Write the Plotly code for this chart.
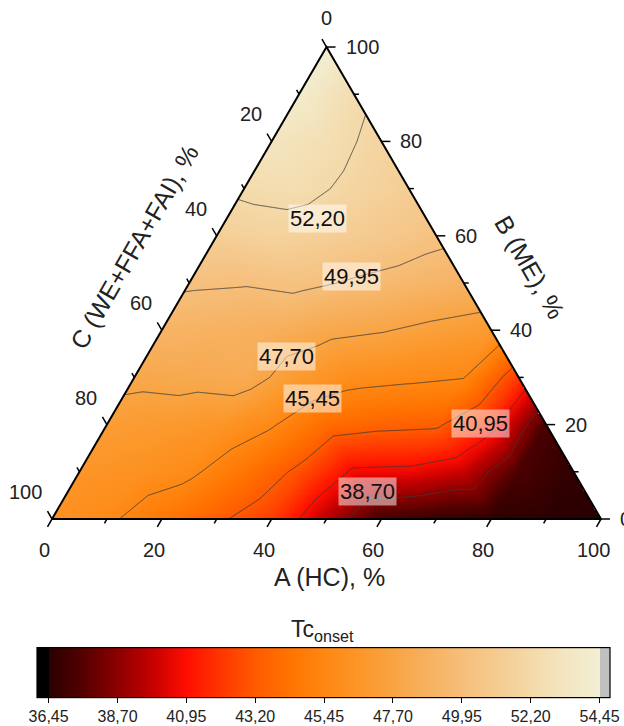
import numpy as np
import plotly.graph_objects as go

# ---------------- data ----------------
# Tc_onset at ternary nodes. Each row has B (ME) fixed; entries are A (HC) = 0, 10, ..., 100 - B
tc_b000 = [46.3, 45.7, 44.6, 43.45, 42.3, 39.6, 37.2, 36.8, 36.6, 36.5, 36.45]
tc_b010 = [46.6, 46.3, 45.75, 44.4, 42.9, 40.7, 40.6, 39.9, 37.3, 36.6]
tc_b020 = [47.1, 46.9, 46.6, 45.6, 44.0, 43.6, 43.45, 41.5, 37.2]
tc_b030 = [48.05, 48.2, 48.4, 46.9, 46.0, 45.75, 45.5, 42.2]
tc_b040 = [49.1, 48.9, 48.7, 48.1, 47.8, 47.3, 46.9]
tc_b050 = [50.15, 50.05, 50.3, 49.8, 49.4, 49.0]
tc_b060 = [51.35, 51.7, 51.4, 50.9, 50.3]
tc_b070 = [52.45, 52.6, 51.9, 51.3]
tc_b080 = [53.3, 52.7, 51.8]
tc_b090 = [54.0, 52.5]
tc_b100 = [54.4]
node_step = 10

# contour levels and in-plot labels
level_start, level_end, level_step = 38.70, 52.20, 2.25
label_text = ["52,20", "49,95", "47,70", "45,45", "40,95", "38,70"]
label_a = [16.6, 28.9, 25.5, 34.6, 67.9, 54.5]
label_b = [63.7, 51.3, 34.5, 25.6, 20.3, 5.8]

# axis ticks
tick_vals = [0, 20, 40, 60, 80, 100]
minor_vals = [10, 30, 50, 70, 90]

# colour bar
cbar_title = 'Tc<sub>onset</sub>'
cbar_vals = [36.45, 38.70, 40.95, 43.20, 45.45, 47.70, 49.95, 52.20, 54.45]
cbar_text = ["36,45", "38,70", "40,95", "43,20", "45,45", "47,70", "49,95", "52,20", "54,45"]
zmin, zmax = 36.07, 54.79
cs_vals = [36.45, 37.5, 38.70, 39.8, 40.95, 42.0, 43.20, 44.3, 45.45, 46.6,
           47.70, 48.8, 49.95, 51.1, 52.20, 53.3, 54.45]
cs_cols = ['#2a0000', '#520000', '#8c0000', '#c40000', '#ff0d00', '#ff3300', '#ff5a00',
           '#ff7300', '#ff8712', '#fc9628', '#f9a443', '#f7b05e', '#f6be7a', '#f5cb91',
           '#f4d9a8', '#f3e5c0', '#f2efd4']

# ---------------- geometry ----------------
W, HGT = 624, 726
H = np.sqrt(3) / 2
PX_X, PX_Y = 5.49, 5.45
X0_PX, Y0_PX = 52, 519
FONT = "Liberation Sans, Arial, sans-serif"


def tern(a, b):
    return a + b / 2.0, b * H


rows = [tc_b000, tc_b010, tc_b020, tc_b030, tc_b040, tc_b050,
        tc_b060, tc_b070, tc_b080, tc_b090, tc_b100]
n = len(rows)
T = np.zeros((n + 1, n + 1))
for j, row in enumerate(rows):
    for i, v in enumerate(row):
        T[i, j] = v

xs = np.round(np.arange(0, 100.0001, 0.25), 4)
ys = np.round(np.arange(0, 86.7, 0.25), 4)
X, Y = np.meshgrid(xs, ys)
Bv = Y / H
Av = X - Bv / 2
inside = (Av >= -1e-9) & (Bv >= -1e-9) & (Av + Bv <= 100 + 1e-9)
ga = np.clip(Av / node_step, 0, n - 1)
gb = np.clip(Bv / node_step, 0, n - 1)
ii = np.clip(np.floor(ga).astype(int), 0, n - 2)
jj = np.clip(np.floor(gb).astype(int), 0, n - 2)
fa = ga - ii
fb = gb - jj
up = (fa + fb) <= 1
z_up = T[ii, jj] * (1 - fa - fb) + T[ii + 1, jj] * fa + T[ii, jj + 1] * fb
z_dn = T[ii + 1, jj] * (1 - fb) + T[ii, jj + 1] * (1 - fa) + T[ii + 1, jj + 1] * (fa + fb - 1)
Z = np.where(up, z_up, z_dn)
Z = np.where(inside, Z, np.nan)

span = zmax - zmin
colorscale = [[0.0, '#000000'], [(cs_vals[0] - zmin) / span - 1e-4, '#000000']]
for v, c in zip(cs_vals, cs_cols):
    colorscale.append([(v - zmin) / span, c])
colorscale.append([(cs_vals[-1] - zmin) / span + 1e-4, '#c0c0c0'])
colorscale.append([1.0, '#c0c0c0'])

fig = go.Figure()
fig.add_trace(go.Heatmap(
    x=xs, y=ys, z=Z, zmin=zmin, zmax=zmax, colorscale=colorscale, zsmooth=False,
    hoverinfo='skip',
    colorbar=dict(
        orientation='h', x=(37 + 610) / 2 / W, xanchor='center', len=573 / W,
        lenmode='fraction', xpad=0, y=0.0, yanchor='bottom', ypad=0,
        thickness=50, outlinecolor='black', outlinewidth=1.2,
        tickvals=cbar_vals, ticktext=cbar_text, ticks='outside', ticklen=5,
        tickcolor='black', tickwidth=1.2,
        tickfont=dict(family=FONT, size=16, color='#222'),
    ),
))
fig.add_trace(go.Contour(
    x=xs, y=ys, z=Z, showscale=False, hoverinfo='skip', connectgaps=False,
    contours=dict(start=level_start, end=level_end, size=level_step, coloring='none', showlabels=False),
    line=dict(color='rgba(60,60,60,0.85)', width=1, smoothing=0),
))

# triangle frame
ex, ey = zip(*[tern(0, 0), tern(100, 0), tern(0, 100), tern(0, 0)])
fig.add_trace(go.Scatter(x=list(ex), y=list(ey), mode='lines', line=dict(color='black', width=2),
                         hoverinfo='skip', showlegend=False))


def tick_trace(points_fn, d_fn):
    tx, ty = [], []
    for v in tick_vals + minor_vals:
        L = 9 if v in tick_vals else 5
        x, y = points_fn(v)
        dx, dy = d_fn(L)
        tx += [x, x + dx, None]
        ty += [y, y + dy, None]
    return go.Scatter(x=tx, y=ty, mode='lines', line=dict(color='black', width=1.5),
                      hoverinfo='skip', showlegend=False)


fig.add_trace(tick_trace(lambda v: tern(v, 0), lambda L: (-0.5 * L / PX_X, -H * L / PX_Y)))
fig.add_trace(tick_trace(lambda v: tern(100 - v, v), lambda L: (L / PX_X, 0)))
fig.add_trace(tick_trace(lambda v: tern(0, 100 - v), lambda L: (-0.5 * L / PX_X, H * L / PX_Y)))

ann = []
tf = dict(family=FONT, size=20, color='#222')
for v in tick_vals:
    x, y = tern(v, 0)
    ann.append(dict(x=x, y=y, text=str(v), showarrow=False, xshift=-8, yshift=-31, font=tf))
    x, y = tern(100 - v, v)
    ann.append(dict(x=x, y=y, text=str(v), showarrow=False, xanchor='left', xshift=17, font=tf))
    x, y = tern(0, 100 - v)
    if v == 0:
        ann.append(dict(x=x, y=y, text=str(v), showarrow=False, yshift=29, font=tf))
    else:
        ann.append(dict(x=x, y=y, text=str(v), showarrow=False, xanchor='right', xshift=-8, yshift=27,
                        font=tf))

titf = dict(family=FONT, size=25, color='#222')
x, y = tern(50, 0)
ann.append(dict(x=x, y=y, text='A (HC), %', showarrow=False, xshift=3, yshift=-58, font=titf))
x, y = tern(50, 50)
ann.append(dict(x=x, y=y, text='B (ME), %', showarrow=False, xshift=66, yshift=16, textangle=60, font=titf))
x, y = tern(0, 50)
ann.append(dict(x=x, y=y, text='C (WE+FFA+FAI), %', showarrow=False, xshift=-55, yshift=36,
                textangle=-60, font=titf))

for t, a, b in zip(label_text, label_a, label_b):
    x, y = tern(a, b)
    ann.append(dict(x=x, y=y, text=t, showarrow=False, bgcolor='rgba(255,255,255,0.5)', borderpad=1,
                    font=dict(family=FONT, size=22, color='#111')))

# colour-bar title
ann.append(dict(xref='paper', yref='paper', x=322 / W, y=1 - 630 / HGT, yanchor='middle', text=cbar_title,
                showarrow=False, font=dict(family=FONT, size=23, color='#222')))

fig.update_layout(
    width=W, height=HGT, autosize=False,
    margin=dict(l=0, r=0, t=0, b=0),
    paper_bgcolor='white', plot_bgcolor='white',
    separators=',.',
    showlegend=False,
    xaxis=dict(visible=False, range=[-X0_PX / PX_X, (W - X0_PX) / PX_X], fixedrange=True),
    yaxis=dict(visible=False, range=[-(HGT - Y0_PX) / PX_Y, Y0_PX / PX_Y], fixedrange=True),
    annotations=ann,
)

fig.write_html("out.html", config={'displayModeBar': False},
               post_script="document.body.style.margin='0';")
